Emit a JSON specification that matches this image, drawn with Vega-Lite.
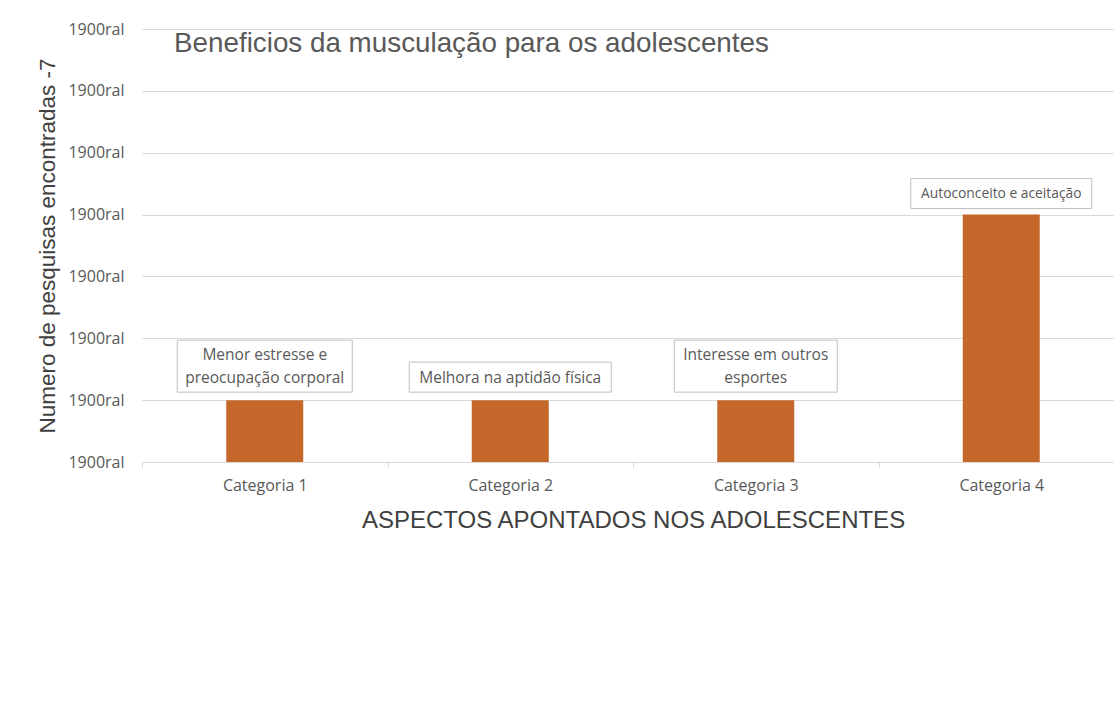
{
  "$schema": "https://vega.github.io/schema/vega-lite/v6.json",
  "autosize": "none",
  "width": 972,
  "height": 433,
  "padding": {"left": 142, "top": 29, "right": 0, "bottom": 243},
  "background": "white",
  "config": {"view": {"stroke": null}},
  "title": {
    "text": "Beneficios da musculação para os adolescentes",
    "anchor": "start",
    "frame": "group",
    "dx": 32,
    "dy": 35,
    "offset": -24,
    "baseline": "alphabetic",
    "font": "Liberation Sans",
    "fontSize": 27.8,
    "fontWeight": "normal",
    "color": "#595959"
  },
  "data": {
    "values": [
      {"cat": "Categoria 1", "value": 1, "label": "Menor estresse e\npreocupação corporal", "lines": 2},
      {"cat": "Categoria 2", "value": 1, "label": "Melhora na aptidão física", "lines": 1},
      {"cat": "Categoria 3", "value": 1, "label": "Interesse em outros\nesportes", "lines": 2},
      {"cat": "Categoria 4", "value": 4, "label": "Autoconceito e aceitação", "lines": 1}
    ]
  },
  "encoding": {
    "x": {
      "field": "cat",
      "type": "nominal",
      "sort": null,
      "scale": {"range": [0, 982], "paddingInner": 0, "paddingOuter": 0},
      "axis": {
        "title": "ASPECTOS APONTADOS NOS ADOLESCENTES",
        "titleFont": "Liberation Sans",
        "titleFontSize": 24,
        "titleFontWeight": "normal",
        "titleColor": "#404040",
        "titlePadding": 15,
        "titleAnchor": "middle",
        "labelAngle": 0,
        "labelFont": "Open Sans",
        "labelFontSize": 16,
        "labelColor": "#595959",
        "labelPadding": 10,
        "tickBand": "extent",
        "tickColor": "#d9d9d9",
        "tickSize": 5,
        "domainColor": "#d9d9d9",
        "grid": false
      }
    },
    "y": {
      "field": "value",
      "type": "quantitative",
      "scale": {"domain": [0, 7], "nice": false},
      "axis": {
        "title": "Numero de pesquisas encontradas -7",
        "titleFont": "Liberation Sans",
        "titleFontSize": 22.5,
        "titleFontWeight": "normal",
        "titleColor": "#404040",
        "titlePadding": 8,
        "values": [0, 1, 2, 3, 4, 5, 6, 7],
        "labelExpr": "'1900ral'",
        "labelFont": "Open Sans",
        "labelFontSize": 16,
        "labelColor": "#595959",
        "labelPadding": 18,
        "ticks": false,
        "domain": false,
        "grid": true,
        "gridColor": "#d9d9d9"
      }
    }
  },
  "layer": [
    {
      "mark": {"type": "bar", "color": "#C4672A", "width": 77}
    },
    {
      "transform": [{"filter": "datum.cat === 'Categoria 1'"}],
      "mark": {"type": "bar", "width": 175, "fill": "white", "stroke": "#bfbfbf", "strokeWidth": 1, "yOffset": -60, "y2Offset": -8},
      "encoding": {"y2": {"field": "value"}}
    },
    {
      "transform": [{"filter": "datum.cat === 'Categoria 2'"}],
      "mark": {"type": "bar", "width": 202, "fill": "white", "stroke": "#bfbfbf", "strokeWidth": 1, "yOffset": -38, "y2Offset": -8},
      "encoding": {"y2": {"field": "value"}}
    },
    {
      "transform": [{"filter": "datum.cat === 'Categoria 3'"}],
      "mark": {"type": "bar", "width": 163, "fill": "white", "stroke": "#bfbfbf", "strokeWidth": 1, "yOffset": -60, "y2Offset": -8},
      "encoding": {"y2": {"field": "value"}}
    },
    {
      "transform": [{"filter": "datum.cat === 'Categoria 4'"}],
      "mark": {"type": "bar", "width": 181, "fill": "white", "stroke": "#bfbfbf", "strokeWidth": 1, "yOffset": -36, "y2Offset": -6},
      "encoding": {"y2": {"field": "value"}}
    },
    {
      "transform": [{"filter": "datum.lines === 2"}],
      "mark": {"type": "text", "baseline": "middle", "dy": -45, "lineBreak": "\n", "lineHeight": 23, "font": "Open Sans", "fontSize": 15.5, "color": "#595959"},
      "encoding": {"text": {"field": "label"}}
    },
    {
      "transform": [{"filter": "datum.cat === 'Categoria 2'"}],
      "mark": {"type": "text", "baseline": "middle", "dy": -22, "font": "Open Sans", "fontSize": 15.5, "color": "#595959"},
      "encoding": {"text": {"field": "label"}}
    },
    {
      "transform": [{"filter": "datum.cat === 'Categoria 4'"}],
      "mark": {"type": "text", "baseline": "middle", "dy": -21, "font": "Open Sans", "fontSize": 13.8, "color": "#595959"},
      "encoding": {"text": {"field": "label"}}
    }
  ]
}
